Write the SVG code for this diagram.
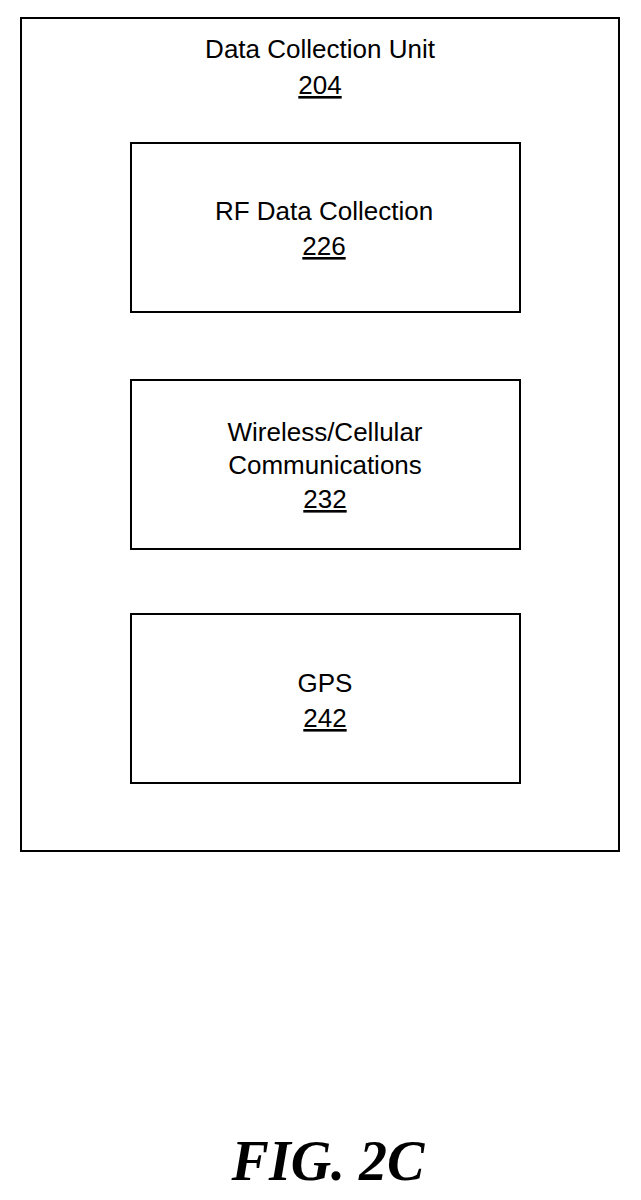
<svg xmlns="http://www.w3.org/2000/svg" width="641" height="1200" viewBox="0 0 641 1200">
<style>
.b{fill:#fff;stroke:#000;stroke-width:2}
.t{font-family:"Liberation Sans",Arial,sans-serif;font-size:26px;text-anchor:middle;fill:#000}
.u{text-decoration:underline}
</style>
<rect width="641" height="1200" fill="#fff"/>
<g id="dcu"><rect class="b" x="21" y="18" width="598" height="833"/>
<text class="t" x="320" y="58">Data Collection Unit</text><text class="t u" x="320" y="94">204</text></g>
<g id="rf"><rect class="b" x="131" y="143" width="389" height="169"/>
<text class="t" x="324" y="220">RF Data Collection</text><text class="t u" x="324" y="255">226</text></g>
<g id="wc"><rect class="b" x="131" y="380" width="389" height="169"/>
<text class="t" x="325" y="441">Wireless/Cellular</text><text class="t" x="325" y="474">Communications</text><text class="t u" x="325" y="508">232</text></g>
<g id="gps"><rect class="b" x="131" y="614" width="389" height="169"/>
<text class="t" x="325" y="692">GPS</text><text class="t u" x="325" y="727">242</text></g>
<g id="connectors"/>
<text x="328" y="1180" style="font-family:'Liberation Serif',serif;font-size:56px;font-style:italic;font-weight:bold;text-anchor:middle">FIG. 2C</text>
</svg>
